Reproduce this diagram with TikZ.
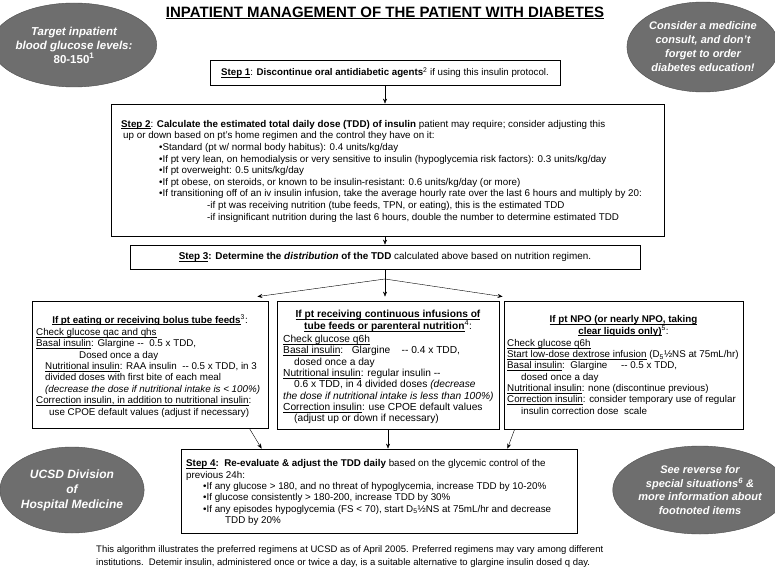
\documentclass[tikz,border=0pt]{standalone}
\usepackage{fontspec}
\setmainfont{Liberation Sans}
\usetikzlibrary{shapes.geometric}
\usetikzlibrary{arrows.meta}
\definecolor{ovalgray}{HTML}{6E6E6E}
\newcommand{\uln}[1]{\underline{\smash{#1}\vphantom{A}}}
\tikzset{
	box/.style={draw, line width=0.8pt, inner sep=0pt},
	oval/.style={ellipse, fill=ovalgray, draw=ovalgray!70!black, inner sep=0pt, align=center, text=white, font=\fontsize{11.5}{14}\selectfont\bfseries\itshape},
	body/.style={inner sep=0pt, align=left, anchor=north west, font=\fontsize{9.8}{11.6}\selectfont},
	head/.style={inner sep=0pt, align=center, font=\fontsize{9.8}{11.6}\selectfont},
}
\begin{document}
\begin{tikzpicture}[x=1pt, y=-1pt, >={Stealth[length=5pt,width=4pt]}]
		\useasboundingbox (0,0) rectangle (775,572);
		\node[font=\fontsize{15}{17}\selectfont\bfseries] (title) at (385,13) {\uln{INPATIENT MANAGEMENT OF THE PATIENT WITH DIABETES}};
		\node[oval, minimum width=146pt, minimum height=84pt] (target) at (74,45) {Target inpatient\\blood glucose levels:\\\upshape 80-150\textsuperscript{1}};
		\node[oval, minimum width=146pt, minimum height=90pt, font=\fontsize{11}{14}\selectfont\bfseries\itshape] (consult) at (703,47) {Consider a medicine\\consult, and don't\\forget to order\\diabetes education!};
		\node[oval, minimum width=144pt, minimum height=86pt, font=\fontsize{12}{15}\selectfont\bfseries\itshape] (ucsd) at (72,490) {UCSD Division\\of\\Hospital Medicine};
		\node[oval, minimum width=150pt, minimum height=88pt, font=\fontsize{11}{13.5}\selectfont\bfseries\itshape] (reverse) at (700,490) {See reverse for\\special situations\textsuperscript{6} \&\\more information about\\footnoted items};
		\node[box, minimum width=350pt, minimum height=25pt, font=\fontsize{9.7}{11.6}\selectfont] (step1) at (385,72.5) {\uln{\textbf{Step 1}}: \textbf{Discontinue oral antidiabetic agents}\textsuperscript{2} if using this insulin protocol.};
		\node[box, minimum width=553pt, minimum height=132pt] (step2) at (387.5,170) {};
		\node[body] (step2txt) at (121,119.9) {\uln{\textbf{Step 2}}: \textbf{Calculate the estimated total daily dose (TDD) of insulin} patient may require; consider adjusting this\\
			\hspace*{2pt}up or down based on pt's home regimen and the control they have on it:\\
			\hspace*{38pt}•Standard (pt w/ normal body habitus): 0.4 units/kg/day\\
			\hspace*{38pt}•If pt very lean, on hemodialysis or very sensitive to insulin (hypoglycemia risk factors): 0.3 units/kg/day\\
			\hspace*{38pt}•If pt overweight: 0.5 units/kg/day\\
			\hspace*{38pt}•If pt obese, on steroids, or known to be insulin-resistant: 0.6 units/kg/day (or more)\\
			\hspace*{38pt}•If transitioning off of an iv insulin infusion, take the average hourly rate over the last 6 hours and multiply by 20:\\
			\hspace*{86pt}-if pt was receiving nutrition (tube feeds, TPN, or eating), this is the estimated TDD\\
			\hspace*{86pt}-if insignificant nutrition during the last 6 hours, double the number to determine estimated TDD};
		\node[box, minimum width=510pt, minimum height=24pt, font=\fontsize{9.9}{11.6}\selectfont] (step3) at (385,257) {\uln{\textbf{Step 3}}\textbf{: Determine the \textit{distribution} of the TDD} calculated above based on nutrition regimen.};
		\node[box, minimum width=236pt, minimum height=127pt] (eat) at (150,364.5) {};
		\node[head] (eathead) at (150,320) {{\bfseries\uln{If pt eating or receiving bolus tube feeds}}\textsuperscript{3}:};
		\node[body, font=\fontsize{9.8}{11.4}\selectfont] (eattxt) at (36,328.4) {\uln{Check glucose qac and qhs}\\
			\uln{Basal insulin}: Glargine -{}-\ \ 0.5 x TDD,\\
			\hspace*{43pt}Dosed once a day\\
			\hspace*{9pt}\uln{Nutritional insulin}: RAA insulin\ \ -{}- 0.5 x TDD, in 3\\
			\hspace*{9pt}divided doses with first bite of each meal\\
			\hspace*{9pt}\textit{(decrease the dose if nutritional intake is < 100\%)}\\
			\uln{Correction insulin, in addition to nutritional insulin}:\\
			\hspace*{13pt}use CPOE default values (adjust if necessary)};
		\node[box, minimum width=222pt, minimum height=128pt] (infuse) at (388,365) {};
		\node[head, font=\fontsize{10.2}{11.6}\selectfont] (infusehead) at (388,321) {{\bfseries\uln{If pt receiving continuous infusions of}}\\{\bfseries\uln{tube feeds or parenteral nutrition}}\textsuperscript{4}:};
		\node[body, font=\fontsize{10.2}{11.3}\selectfont] (infusetxt) at (283,335.4) {\uln{Check glucose q6h}\\
			\uln{Basal insulin}:\ \ \ Glargine\ \ \ \ -{}- 0.4 x TDD,\\
			\hspace*{11pt}dosed once a day\\
			\uln{Nutritional insulin}: regular insulin -{}-\\
			\hspace*{11pt}0.6 x TDD, in 4 divided doses \textit{(decrease}\\
			\textit{the dose if nutritional intake is less than 100\%)}\\
			\uln{Correction insulin}: use CPOE default values\\
			\hspace*{11pt}(adjust up or down if necessary)};
		\node[box, minimum width=239pt, minimum height=128pt] (npo) at (623.5,365) {};
		\node[head] (npohead) at (623.5,326) {{\bfseries\uln{If pt NPO (or nearly NPO, taking}}\\{\bfseries\uln{clear liquids only)}}\textsuperscript{5}:};
		\node[body, font=\fontsize{9.8}{11.3}\selectfont] (npotxt) at (507,339.4) {\uln{Check glucose q6h}\\
			\uln{Start low-dose dextrose infusion} (D\textsubscript{5}½NS at 75mL/hr)\\
			\uln{Basal insulin}:\ \ Glargine\ \ \ \ \ -{}- 0.5 x TDD,\\
			\hspace*{14pt}dosed once a day\\
			\uln{Nutritional insulin}: none (discontinue previous)\\
			\uln{Correction insulin}: consider temporary use of regular\\
			\hspace*{14pt}insulin correction dose\ \ scale};
		\node[box, minimum width=396pt, minimum height=84pt] (step4) at (379,491) {};
		\node[body, font=\fontsize{9.8}{11.4}\selectfont] (step4txt) at (186,459.4) {\uln{\textbf{Step 4}}\textbf{:\ \ Re-evaluate \& adjust the TDD daily} based on the glycemic control of the\\
			previous 24h:\\
			\hspace*{17pt}•If any glucose > 180, and no threat of hypoglycemia, increase TDD by 10-20\%\\
			\hspace*{17pt}•If glucose consistently > 180-200, increase TDD by 30\%\\
			\hspace*{17pt}•If any episodes hypoglycemia (FS < 70), start D\textsubscript{5}½NS at 75mL/hr and decrease\\
			\hspace*{39pt}TDD by 20\%};
		\node[body, font=\fontsize{9.5}{13}\selectfont] (note) at (96,545.5) {This algorithm illustrates the preferred regimens at UCSD as of April 2005. Preferred regimens may vary among different\\
			institutions.\ \ Detemir insulin, administered once or twice a day, is a suitable alternative to glargine insulin dosed q day.};
		\coordinate (split) at (385,279);
		\draw[->] (step1.south) -- (step1.south |- step2.north);
		\draw[->] (step2.south -| step3.north) -- (step3.north);
		\draw (step3.south) -- (split);
		\draw[->] (split) -- ([xshift=-11pt,yshift=4pt]eat.north east);
		\draw[->] (split) -- ([yshift=4pt]split |- infuse.north);
		\draw[->] (split) -- ([xshift=-1pt,yshift=4pt]npo.north west);
		\draw[->] ([xshift=-19pt]eat.south east) -- ([xshift=81pt]step4.north west);
		\draw[->] (infuse.south) -- (infuse.south |- step4.north);
		\draw[->] ([xshift=11pt]npo.south west) -- ([xshift=-70pt]step4.north east);
	\end{tikzpicture}
\end{document}
